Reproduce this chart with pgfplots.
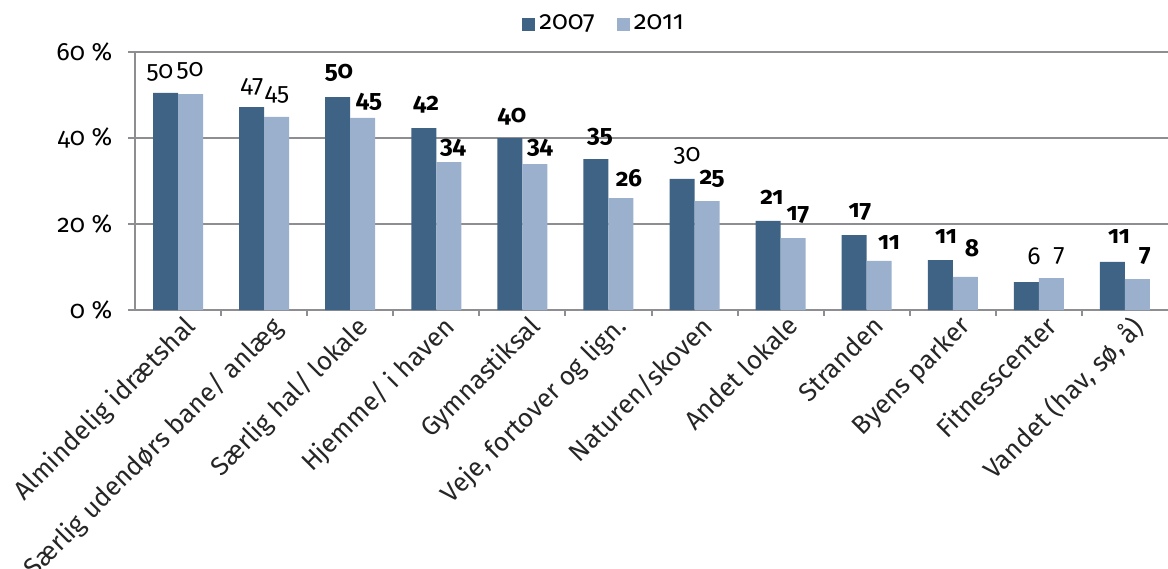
\documentclass[border=0pt]{standalone}
\usepackage{fontspec}
\setmainfont{Fira Sans}[Numbers=OldStyle]
\usepackage{pgfplots}
\pgfplotsset{compat=1.18}
\usepackage{pgfplotstable}
\definecolor{darkbar}{HTML}{3F6384}
\definecolor{lightbar}{HTML}{9AB0CD}
\definecolor{axisgray}{HTML}{8E8E92}

\pgfplotstableread{
x y07 y11
0 50.5 50.2
1 47.2 44.9
2 49.5 44.7
3 42.3 34.4
4 40.0 33.9
5 35.1 26.0
6 30.5 25.3
7 20.7 16.7
8 17.4 11.4
9 11.6 7.7
10 6.5 7.4
11 11.2 7.2
}\bars

\pgfplotstableread{
x y label
-0.210 55.1 50
0.139 55.6 50
0.859 51.9 47
1.150 50.0 45
1.870 55.1 \textbf{50}
2.218 48.4 \textbf{45}
2.881 47.7 \textbf{42}
3.194 37.7 \textbf{34}
3.880 44.9 \textbf{40}
4.205 37.7 \textbf{34}
4.902 40.2 \textbf{35}
5.239 30.7 \textbf{26}
5.913 35.8 30
6.203 30.5 \textbf{25}
6.900 26.3 \textbf{21}
7.202 22.1 \textbf{17}
7.922 22.8 \textbf{17}
8.259 15.6 \textbf{11}
8.921 17.2 \textbf{11}
9.224 14.4 \textbf{8}
9.944 12.6 6
10.234 12.6 7
10.931 17.0 \textbf{11}
11.233 12.6 \textbf{7}
}\labels

\begin{document}
\fontsize{11}{13}\selectfont
\begin{tikzpicture}
\begin{axis}[
  name=ax,
  scale only axis,
  width=516.5pt, height=129pt,
  xmin=-0.5, xmax=11.5,
  ymin=0, ymax=60,
  axis x line*=bottom,
  axis y line*=left,
  axis line style={axisgray, line width=1pt},
  ytick={0,20,40,60},
  yticklabels={0 \%, 20 \%, 40 \%, 60 \%},
  ymajorgrids,
  grid style={axisgray, line width=1pt},
  tick align=outside,
  major tick length=3.5pt,
  minor tick length=3pt,
  tick style={axisgray, line width=1pt},
  xtick={0,...,11},
  major x tick style={draw=none},
  minor xtick={0.5,1.5,...,10.5},
  xticklabels={Almindelig idrætshal, Særlig udendørs bane/ anlæg, Særlig hal/ lokale, Hjemme/ i haven, Gymnastiksal, {Veje, fortover og lign.}, Naturen/skoven, Andet lokale, Stranden, Byens parker, Fitnesscenter, {Vandet (hav, sø, å)}},
  xticklabel style={rotate=45, anchor=north east, inner sep=2pt, xshift=5pt, yshift=1.5pt, font=\fontsize{13}{15}\selectfont, text=black!85},
  yticklabel style={font=\fontsize{12.5}{14}\selectfont, xshift=-4pt, text=black},
  legend style={at={(0.455,1.1085)}, anchor=center, draw=none, fill=none, font=\fontsize{13}{15}\selectfont, legend columns=2, /tikz/every even column/.append style={column sep=9pt}},
  legend image code/.code={\fill[#1] (0pt,-3.25pt) rectangle (6.5pt,3.25pt);},
  clip=false,
]
\addplot[ybar, bar width=0.29, bar shift=-0.145, fill=darkbar, draw=none] table[x=x, y=y07] {\bars};
\addlegendentry{2007}
\addplot[ybar, bar width=0.29, bar shift=0.145, fill=lightbar, draw=none] table[x=x, y=y11] {\bars};
\addlegendentry{2011}
\addplot[forget plot, only marks, mark=none, nodes near coords, point meta=explicit symbolic,
  every node near coord/.style={anchor=center, inner sep=0pt, font=\fontsize{12.3}{14}\selectfont, text=black}]
  table[x=x, y=y, meta=label] {\labels};
\end{axis}
\pgfresetboundingbox
\path[use as bounding box] ([xshift=-67.5pt, yshift=-129pt]ax.south west) rectangle ([yshift=26pt]ax.north east);
\end{tikzpicture}
\end{document}
